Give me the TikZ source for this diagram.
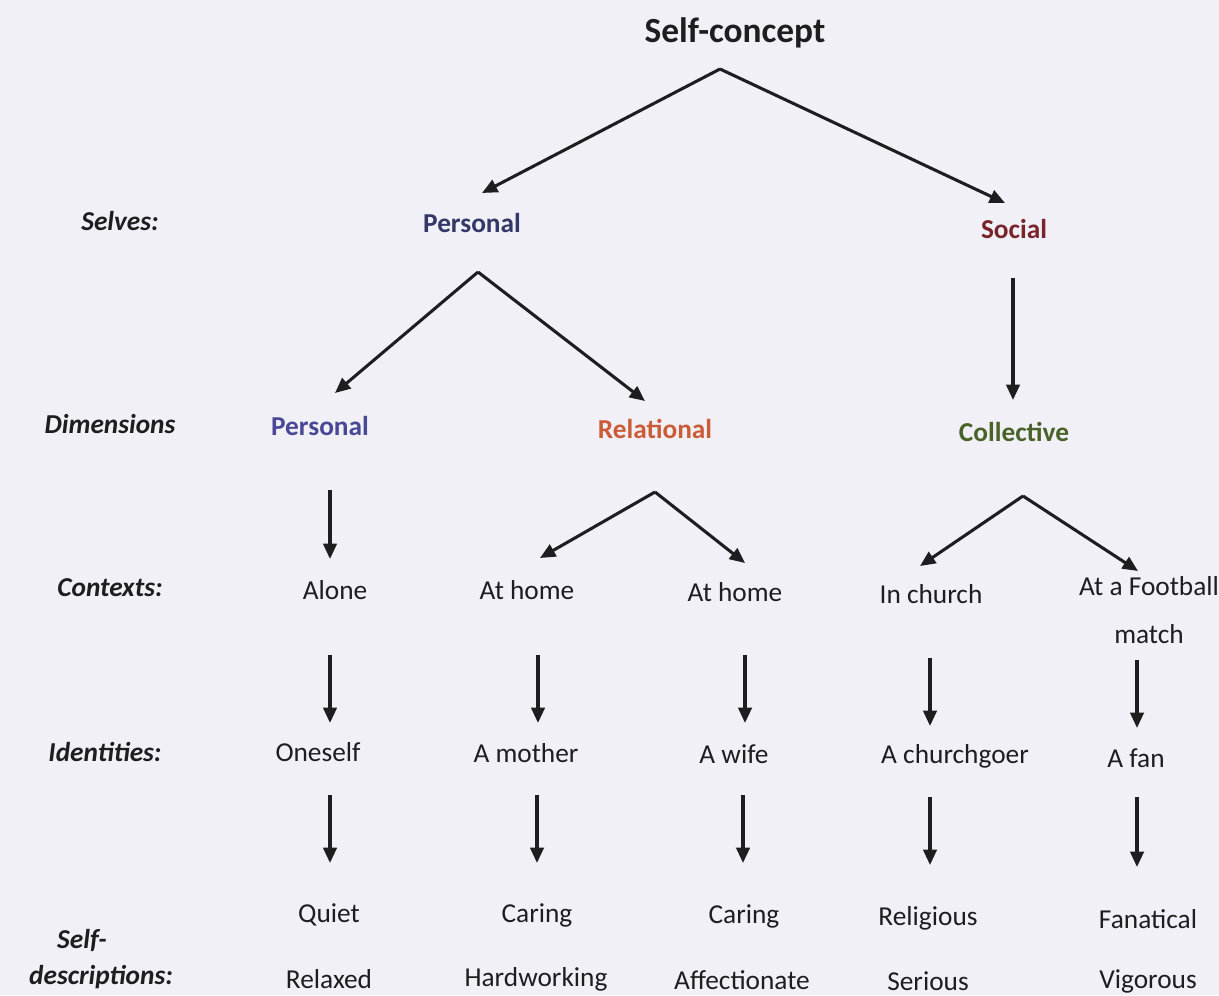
\documentclass[tikz,border=0pt]{standalone}
\usepackage{fontspec}
\setmainfont{Carlito}
\usetikzlibrary{arrows.meta}
\definecolor{paper}{RGB}{240,240,246}
\definecolor{ink}{RGB}{30,30,32}
\definecolor{selfnavy}{RGB}{52,56,104}
\definecolor{socialred}{RGB}{120,36,42}
\definecolor{persblue}{RGB}{72,72,150}
\definecolor{relorange}{RGB}{204,92,56}
\definecolor{colgreen}{RGB}{72,98,40}
\begin{document}
\begin{tikzpicture}[x=0.75pt,y=-0.75pt,
  lbl/.style={font=\fontsize{20.5}{24}\selectfont, text=ink, inner sep=0pt, anchor=center},
  rowlbl/.style={lbl, font=\fontsize{20.5}{24}\selectfont\bfseries\itshape},
  head/.style={lbl, font=\fontsize{20.5}{24}\selectfont\bfseries},
  arr/.style={draw=ink, line width=2.3pt, -{Triangle[length=11.5pt,width=10pt]}}]
\useasboundingbox[fill=paper] (0,0) rectangle (1219,995);

% Top concept
\node[lbl, font=\fontsize{26.5}{30}\selectfont\bfseries] (top) at (735,33) {Self-concept};

% Row labels
\node[rowlbl] (rselves) at (120,221) {Selves:};
\node[rowlbl] (rdims) at (110,424) {Dimensions};
\node[rowlbl] (rctx) at (110,588) {Contexts:};
\node[rowlbl] (rid) at (105,752) {Identities:};
\node[rowlbl] (rself) at (82,940) {Self-};
\node[rowlbl] (rdesc) at (101,977) {descriptions:};

% Selves
\node[head, text=selfnavy] (personal) at (472,223) {Personal};
\node[head, text=socialred] (social) at (1014,229) {Social};

% Dimensions
\node[head, text=persblue] (dpers) at (320,426) {Personal};
\node[head, text=relorange] (drel) at (655,429) {Relational};
\node[head, text=colgreen] (dcol) at (1014,432) {Collective};

% Contexts
\node[lbl] (calone) at (335,590) {Alone};
\node[lbl] (chome1) at (527,590) {At home};
\node[lbl] (chome2) at (735,592) {At home};
\node[lbl] (cchurch) at (931,594) {In church};
\node[lbl, align=center, font=\fontsize{20.5}{36}\selectfont] (cfoot) at (1149,610) {At a Football\\match};

% Identities
\node[lbl] (ione) at (318,752) {Oneself};
\node[lbl] (imother) at (526,753) {A mother};
\node[lbl] (iwife) at (734,754) {A wife};
\node[lbl] (ichurch) at (955,756) {A churchgoer};
\node[lbl] (ifan) at (1136,758) {A fan};

% Self-descriptions
\node[lbl] (q1) at (329,915) {Quiet};
\node[lbl] (q2) at (537,915) {Caring};
\node[lbl] (q3) at (744,916) {Caring};
\node[lbl] (q4) at (928,918) {Religious};
\node[lbl] (q5) at (1148,919) {Fanatical};
\node[lbl] (r1) at (329,979) {Relaxed};
\node[lbl] (r2) at (536,979) {Hardworking};
\node[lbl] (r3) at (742,980) {Affectionate};
\node[lbl] (r4) at (928,981) {Serious};
\node[lbl] (r5) at (1148,981) {Vigorous};

% Branch points and arrow ends
\coordinate (atop) at (720,69);
\coordinate (tpers) at (482,193);
\coordinate (tsoc) at (1005,203);
\coordinate (apers) at (478,272);
\coordinate (tdpers) at (335,393);
\coordinate (tdrel) at (645,401);
\coordinate (asoc) at (1013,278);
\coordinate (tdcol) at (1013,400);
\coordinate (arel) at (655,492);
\coordinate (tch1) at (540,558);
\coordinate (tch2) at (745,563);
\coordinate (acol) at (1023,496);
\coordinate (tcch) at (920,566);
\coordinate (tcft) at (1138,571);

\draw[arr] (atop) -- (tpers);
\draw[arr] (atop) -- (tsoc);
\draw[arr] (apers) -- (tdpers);
\draw[arr] (apers) -- (tdrel);
\draw[arr] (asoc) -- (tdcol);
\draw[arr] (330,490) -- (330,559);
\draw[arr] (arel) -- (tch1);
\draw[arr] (arel) -- (tch2);
\draw[arr] (acol) -- (tcch);
\draw[arr] (acol) -- (tcft);

% Contexts to identities
\draw[arr] (330,655) -- (330,723);
\draw[arr] (538,655) -- (538,723);
\draw[arr] (745,655) -- (745,723);
\draw[arr] (930,658) -- (930,726);
\draw[arr] (1137,660) -- (1137,728);

% Identities to self-descriptions
\draw[arr] (330,795) -- (330,863);
\draw[arr] (537,795) -- (537,863);
\draw[arr] (743,795) -- (743,863);
\draw[arr] (930,797) -- (930,865);
\draw[arr] (1137,797) -- (1137,867);
\end{tikzpicture}
\end{document}
